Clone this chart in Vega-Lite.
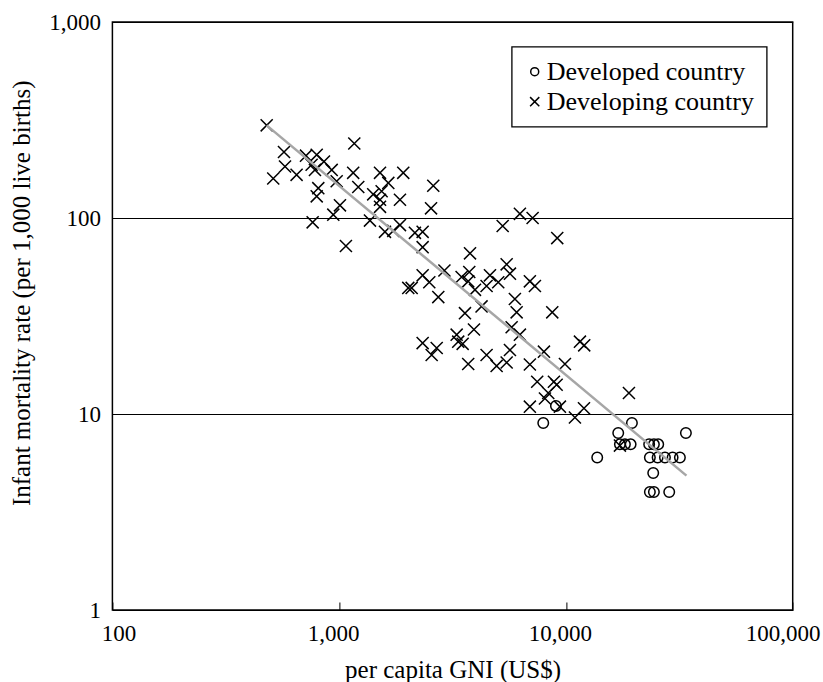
{
  "$schema": "https://vega.github.io/schema/vega-lite/v6.json",
  "width": 680.3,
  "height": 588,
  "autosize": {"type": "none"},
  "padding": {"left": 112.4, "top": 22, "right": 30.3, "bottom": 72},
  "background": "white",
  "config": {
    "view": {"stroke": "black", "strokeWidth": 1.5},
    "font": "Liberation Serif",
    "legend": {
      "orient": "none",
      "legendX": 399.3,
      "legendY": 24.7,
      "strokeColor": "black",
      "strokeWidth": 1.3,
      "fillColor": "white",
      "padding": 12,
      "labelFont": "Liberation Serif",
      "labelFontSize": 26,
      "labelColor": "black",
      "labelLimit": 400,
      "symbolSize": 64,
      "symbolStrokeWidth": 1.5,
      "symbolStrokeColor": "black",
      "symbolOffset": -2,
      "labelOffset": -1,
      "rowPadding": 4
    }
  },
  "datasets": {
    "pts": [
      {"gni": 479, "imr": 297, "type": "Developing country"},
      {"gni": 571, "imr": 217, "type": "Developing country"},
      {"gni": 577, "imr": 183, "type": "Developing country"},
      {"gni": 512, "imr": 159, "type": "Developing country"},
      {"gni": 649, "imr": 166, "type": "Developing country"},
      {"gni": 714, "imr": 208, "type": "Developing country"},
      {"gni": 796, "imr": 210, "type": "Developing country"},
      {"gni": 857, "imr": 194, "type": "Developing country"},
      {"gni": 756, "imr": 187, "type": "Developing country"},
      {"gni": 782, "imr": 176, "type": "Developing country"},
      {"gni": 927, "imr": 176, "type": "Developing country"},
      {"gni": 975, "imr": 154, "type": "Developing country"},
      {"gni": 809, "imr": 142, "type": "Developing country"},
      {"gni": 796, "imr": 129, "type": "Developing country"},
      {"gni": 1008, "imr": 116, "type": "Developing country"},
      {"gni": 942, "imr": 104, "type": "Developing country"},
      {"gni": 764, "imr": 95, "type": "Developing country"},
      {"gni": 1166, "imr": 240, "type": "Developing country"},
      {"gni": 1153, "imr": 170, "type": "Developing country"},
      {"gni": 1214, "imr": 144, "type": "Developing country"},
      {"gni": 1514, "imr": 170, "type": "Developing country"},
      {"gni": 1647, "imr": 151, "type": "Developing country"},
      {"gni": 1413, "imr": 132, "type": "Developing country"},
      {"gni": 1539, "imr": 137, "type": "Developing country"},
      {"gni": 1514, "imr": 124, "type": "Developing country"},
      {"gni": 1514, "imr": 114, "type": "Developing country"},
      {"gni": 1367, "imr": 97, "type": "Developing country"},
      {"gni": 1592, "imr": 85, "type": "Developing country"},
      {"gni": 1732, "imr": 86, "type": "Developing country"},
      {"gni": 1071, "imr": 72, "type": "Developing country"},
      {"gni": 1917, "imr": 170, "type": "Developing country"},
      {"gni": 1854, "imr": 124, "type": "Developing country"},
      {"gni": 2600, "imr": 146, "type": "Developing country"},
      {"gni": 2542, "imr": 112, "type": "Developing country"},
      {"gni": 1854, "imr": 92, "type": "Developing country"},
      {"gni": 2158, "imr": 84, "type": "Developing country"},
      {"gni": 2334, "imr": 85, "type": "Developing country"},
      {"gni": 2334, "imr": 71, "type": "Developing country"},
      {"gni": 2912, "imr": 54, "type": "Developing country"},
      {"gni": 6266, "imr": 105, "type": "Developing country"},
      {"gni": 7129, "imr": 100, "type": "Developing country"},
      {"gni": 5260, "imr": 91, "type": "Developing country"},
      {"gni": 9155, "imr": 79, "type": "Developing country"},
      {"gni": 3776, "imr": 66, "type": "Developing country"},
      {"gni": 5477, "imr": 58, "type": "Developing country"},
      {"gni": 5664, "imr": 52, "type": "Developing country"},
      {"gni": 2334, "imr": 51, "type": "Developing country"},
      {"gni": 2497, "imr": 47, "type": "Developing country"},
      {"gni": 3466, "imr": 50, "type": "Developing country"},
      {"gni": 3747, "imr": 53, "type": "Developing country"},
      {"gni": 3707, "imr": 47.5, "type": "Developing country"},
      {"gni": 4624, "imr": 51, "type": "Developing country"},
      {"gni": 5029, "imr": 47, "type": "Developing country"},
      {"gni": 4467, "imr": 45, "type": "Developing country"},
      {"gni": 3971, "imr": 43, "type": "Developing country"},
      {"gni": 6934, "imr": 47.5, "type": "Developing country"},
      {"gni": 7298, "imr": 45, "type": "Developing country"},
      {"gni": 2017, "imr": 44, "type": "Developing country"},
      {"gni": 2088, "imr": 44, "type": "Developing country"},
      {"gni": 2736, "imr": 39.5, "type": "Developing country"},
      {"gni": 5955, "imr": 38.6, "type": "Developing country"},
      {"gni": 4245, "imr": 35.4, "type": "Developing country"},
      {"gni": 6062, "imr": 33, "type": "Developing country"},
      {"gni": 3587, "imr": 32.7, "type": "Developing country"},
      {"gni": 8704, "imr": 33, "type": "Developing country"},
      {"gni": 3930, "imr": 27, "type": "Developing country"},
      {"gni": 5762, "imr": 27.7, "type": "Developing country"},
      {"gni": 6266, "imr": 25.4, "type": "Developing country"},
      {"gni": 2334, "imr": 23, "type": "Developing country"},
      {"gni": 2692, "imr": 21.7, "type": "Developing country"},
      {"gni": 2558, "imr": 20, "type": "Developing country"},
      {"gni": 3297, "imr": 25.4, "type": "Developing country"},
      {"gni": 3350, "imr": 23.4, "type": "Developing country"},
      {"gni": 3504, "imr": 22.8, "type": "Developing country"},
      {"gni": 4467, "imr": 20, "type": "Developing country"},
      {"gni": 5664, "imr": 21.2, "type": "Developing country"},
      {"gni": 5477, "imr": 18.3, "type": "Developing country"},
      {"gni": 4947, "imr": 17.6, "type": "Developing country"},
      {"gni": 3707, "imr": 18, "type": "Developing country"},
      {"gni": 6934, "imr": 17.9, "type": "Developing country"},
      {"gni": 7998, "imr": 20.8, "type": "Developing country"},
      {"gni": 9899, "imr": 18, "type": "Developing country"},
      {"gni": 11529, "imr": 23.4, "type": "Developing country"},
      {"gni": 12040, "imr": 22.4, "type": "Developing country"},
      {"gni": 7470, "imr": 14.6, "type": "Developing country"},
      {"gni": 8851, "imr": 14.6, "type": "Developing country"},
      {"gni": 9100, "imr": 14.1, "type": "Developing country"},
      {"gni": 8080, "imr": 12, "type": "Developing country"},
      {"gni": 8356, "imr": 12.8, "type": "Developing country"},
      {"gni": 6934, "imr": 10.9, "type": "Developing country"},
      {"gni": 9408, "imr": 10.9, "type": "Developing country"},
      {"gni": 10956, "imr": 9.6, "type": "Developing country"},
      {"gni": 12010, "imr": 10.7, "type": "Developing country"},
      {"gni": 18960, "imr": 12.8, "type": "Developing country"},
      {"gni": 17300, "imr": 6.9, "type": "Developing country"},
      {"gni": 7943, "imr": 9, "type": "Developed country"},
      {"gni": 9036, "imr": 11, "type": "Developed country"},
      {"gni": 17006, "imr": 8, "type": "Developed country"},
      {"gni": 19543, "imr": 9, "type": "Developed country"},
      {"gni": 17300, "imr": 7, "type": "Developed country"},
      {"gni": 18200, "imr": 7, "type": "Developed country"},
      {"gni": 19289, "imr": 7, "type": "Developed country"},
      {"gni": 13740, "imr": 6, "type": "Developed country"},
      {"gni": 23280, "imr": 7, "type": "Developed country"},
      {"gni": 24430, "imr": 7, "type": "Developed country"},
      {"gni": 25530, "imr": 7, "type": "Developed country"},
      {"gni": 23450, "imr": 6, "type": "Developed country"},
      {"gni": 25370, "imr": 6, "type": "Developed country"},
      {"gni": 27330, "imr": 6, "type": "Developed country"},
      {"gni": 29540, "imr": 6, "type": "Developed country"},
      {"gni": 31810, "imr": 6, "type": "Developed country"},
      {"gni": 24260, "imr": 5, "type": "Developed country"},
      {"gni": 23450, "imr": 4, "type": "Developed country"},
      {"gni": 24430, "imr": 4, "type": "Developed country"},
      {"gni": 28540, "imr": 4, "type": "Developed country"},
      {"gni": 33810, "imr": 8, "type": "Developed country"}
    ],
    "trend": [
      {"gni": 479, "imr": 297},
      {"gni": 34000, "imr": 4.85}
    ]
  },
  "layer": [
    {
      "data": {"name": "pts"},
      "mark": {"type": "point", "filled": false, "strokeWidth": 1.5, "color": "black", "opacity": 1, "size": 110},
      "encoding": {
        "x": {
          "field": "gni",
          "type": "quantitative",
          "scale": {"type": "log", "domain": [100, 100000]},
          "axis": {
            "title": "per capita GNI (US$)",
            "values": [100, 1000, 10000, 100000],
            "format": ",d",
            "grid": false,
            "domain": false,
            "ticks": true,
            "offset": -8,
            "tickSize": 8,
            "tickColor": "black",
            "tickWidth": 1,
            "labelFont": "Liberation Serif",
            "labelFontSize": 23,
            "labelColor": "black",
            "labelPadding": 12.5,
            "labelFlush": false,
            "labelOverlap": false,
            "labelOffset": {"condition": [{"test": "datum.value == 100", "value": 6}, {"test": "datum.value == 100000", "value": -10}], "value": -6},
            "titleFont": "Liberation Serif",
            "titleFontSize": 25,
            "titleFontWeight": "normal",
            "titleColor": "black",
            "titleBaseline": "alphabetic",
            "titleY": 75
          }
        },
        "y": {
          "field": "imr",
          "type": "quantitative",
          "scale": {"type": "log", "domain": [1, 1000]},
          "axis": {
            "title": "Infant mortality rate (per 1,000 live births)",
            "values": [1, 10, 100, 1000],
            "format": ",d",
            "grid": true,
            "gridColor": "black",
            "gridWidth": 1,
            "gridOpacity": 1,
            "domain": false,
            "ticks": false,
            "labelFont": "Liberation Serif",
            "labelFontSize": 23,
            "labelColor": "black",
            "labelPadding": 12,
            "labelOverlap": false,
            "titleFont": "Liberation Serif",
            "titleFontSize": 25,
            "titleFontWeight": "normal",
            "titleColor": "black",
            "titleBaseline": "middle",
            "titleX": -91.4,
            "titleY": 270.8
          }
        },
        "shape": {
          "field": "type",
          "type": "nominal",
          "scale": {"domain": ["Developed country", "Developing country"], "range": ["circle", "M-1.15,-1.15L1.15,1.15M-1.15,1.15L1.15,-1.15"]},
          "legend": {"title": null}
        }
      }
    },
    {
      "data": {"name": "trend"},
      "mark": {"type": "line", "color": "#a6a6a6", "strokeWidth": 2.5},
      "encoding": {
        "x": {"field": "gni", "type": "quantitative", "scale": {"type": "log", "domain": [100, 100000]}},
        "y": {"field": "imr", "type": "quantitative", "scale": {"type": "log", "domain": [1, 1000]}}
      }
    }
  ]
}
